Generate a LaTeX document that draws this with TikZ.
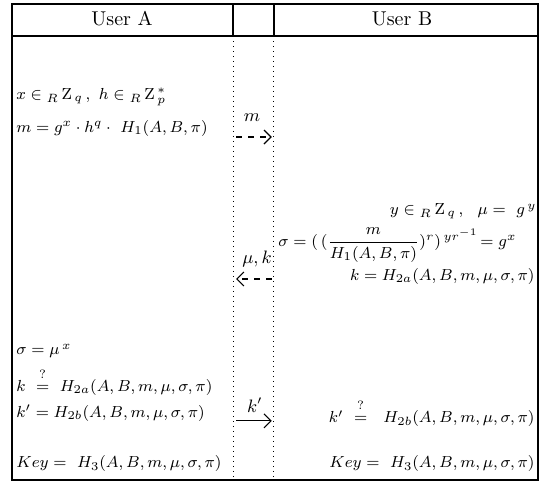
\documentclass[tikz,border=0pt]{standalone}
\usepackage{amsmath, amssymb}
\usepackage{tikz}
\usetikzlibrary{arrows.meta}

\newcommand{\eqfont}{\fontsize{8.1}{10}\selectfont}
\newcommand{\qeq}{\overset{\raisebox{2pt}{$\scriptstyle ?$}}{=}}

\begin{document}
\begin{tikzpicture}[
        party/.style={inner sep=1pt},
        stepa/.style={anchor=west, inner sep=0pt, font=\eqfont},
        stepb/.style={anchor=east, inner sep=0pt, font=\eqfont},
        msg/.style={inner sep=1pt, font=\small},
        send/.style={-{Straight Barb[length=3.5pt,width=7pt]}, semithick},
        frame/.style={line width=0.7pt},
        lane/.style={dotted, line width=0.5pt}
    ]
        \useasboundingbox (0,0) rectangle (9.6,-8.53);

        % Table frame
        \draw[frame] (0.211,-0.070) rectangle (9.459,-8.439);
        \draw[frame] (0.211,-0.633) -- (9.459,-0.633);
        \draw[frame] (4.097,-0.070) -- (4.097,-0.633);
        \draw[frame] (4.817,-0.070) -- (4.817,-0.633);
        \draw[lane] (4.097,-0.633) -- (4.097,-8.439);
        \draw[lane] (4.817,-0.633) -- (4.817,-8.439);

        % Header
        \node[party] (ua) at (2.145,-0.334) {User A};
        \node[party] (ub) at (7.068,-0.334) {User B};

        % User A
        \node[stepa] (a1) at (0.281,-1.705) {$x\in{}_{R}\,\mathrm{Z}_{\,q}\,,\ h\in{}_{R}\,\mathrm{Z}_{\,p}^{\,*}$};
        \node[stepa] (a2) at (0.281,-2.251) {$m=g^{x}\cdot h^{q}\cdot\ H_{1}(A,B,\pi)$};
        \node[stepa] (a3) at (0.281,-6.170) {$\sigma=\mu^{\,x}$};
        \node[stepa] (a4) at (0.281,-6.710) {$k\ \qeq\ H_{2a}(A,B,m,\mu,\sigma,\pi)$};
        \node[stepa] (a5) at (0.281,-7.261) {$k'=H_{2b}(A,B,m,\mu,\sigma,\pi)$};
        \node[stepa] (a6) at (0.281,-8.158) {$Key=\ H_{3}(A,B,m,\mu,\sigma,\pi)$};

        % User B
        \node[stepb] (b1) at (9.44,-3.72) {$y\in{}_{R}\,\mathrm{Z}_{\,q}\,,\ \ \mu=\ g^{\,y}$};
        \node[stepa] (b2) at (4.888,-4.308) {$\sigma=(\,(\dfrac{m}{H_{1}(A,B,\pi)})^{r})^{\,yr^{-1}}\!=g^{x}$};
        \node[stepb] (b3) at (9.406,-4.853) {$k=H_{2a}(A,B,m,\mu,\sigma,\pi)$};
        \node[stepb] (b4) at (9.406,-7.261) {$k'\ \qeq\ \ H_{2b}(A,B,m,\mu,\sigma,\pi)$};
        \node[stepb] (b5) at (9.406,-8.158) {$Key=\ H_{3}(A,B,m,\mu,\sigma,\pi)$};

        % Messages
        \node[msg] (lm) at (4.43,-2.06) {$m$};
        \coordinate (m0) at (4.15,-2.41);
        \coordinate (m1) at (4.78,-2.41);
        \draw[send, dashed] (m0) -- (m1);

        \node[msg] (lmk) at (4.52,-4.55) {$\mu,k$};
        \coordinate (r0) at (4.78,-4.905);
        \coordinate (r1) at (4.15,-4.905);
        \draw[send, dashed] (r0) -- (r1);

        \node[msg] (lk) at (4.48,-7.12) {$k'$};
        \coordinate (k0) at (4.15,-7.40);
        \coordinate (k1) at (4.78,-7.40);
        \draw[send] (k0) -- (k1);
    \end{tikzpicture}
\end{document}
